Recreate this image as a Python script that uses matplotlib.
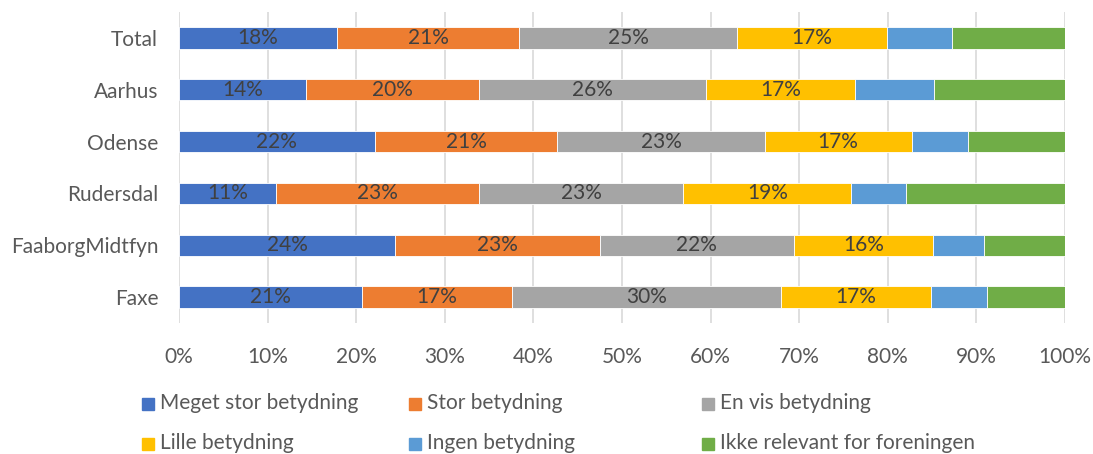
import matplotlib
matplotlib.use("Agg")
import matplotlib.pyplot as plt
import numpy as np

categories = ["Total", "Aarhus", "Odense", "Rudersdal", "FaaborgMidtfyn", "Faxe"]
series_names = ["Meget stor betydning", "Stor betydning", "En vis betydning",
                "Lille betydning", "Ingen betydning", "Ikke relevant for foreningen"]
meget_stor = [17.8, 14.3, 22.1, 10.9, 24.4, 20.6]
stor = [20.6, 19.6, 20.6, 23.0, 23.1, 17.0]
en_vis = [24.6, 25.6, 23.4, 23.0, 21.9, 30.3]
lille = [16.9, 16.8, 16.6, 19.0, 15.7, 17.0]
ingen = [7.4, 8.9, 6.4, 6.2, 5.8, 6.3]
ikke_relevant = [12.7, 14.8, 10.9, 17.9, 9.1, 8.8]
show_labels = [True, True, True, True, False, False]
colors = ["#4472C4", "#ED7D31", "#A5A5A5", "#FFC000", "#5B9BD5", "#70AD47"]
xticks = [0, 10, 20, 30, 40, 50, 60, 70, 80, 90, 100]

series = [meget_stor, stor, en_vis, lille, ingen, ikke_relevant]

plt.rcParams['font.family'] = ['Lato', 'DejaVu Sans']
FS = 15
fig = plt.figure(figsize=(10.93, 4.54), dpi=100)
ax = fig.add_axes([179/1093, 1-323/454, (1065-179)/1093, (323-12)/454])

y = np.arange(len(categories))
left = np.zeros(len(categories))
for vals, col, name, lab in zip(series, colors, series_names, show_labels):
    vals = np.array(vals)
    ax.barh(y, vals, left=left, height=0.41, color=col, edgecolor="white",
            linewidth=0.6, label=name, zorder=3)
    if lab:
        for yi, l, v in zip(y, left, vals):
            ax.text(l + v/2, yi, f"{round(v):.0f}%", ha="center", va="center",
                    fontsize=FS, color="#404040", zorder=4)
    left += vals

ax.set_xlim(0, 100)
ax.set_ylim(len(categories)-0.5, -0.5)
ax.set_yticks(y)
ax.set_yticklabels(categories, fontsize=FS, color="#595959")
ax.set_xticks(xticks)
ax.set_xticklabels([f"{t}%" for t in xticks], fontsize=FS, color="#595959")
ax.tick_params(axis="both", length=0)
ax.tick_params(axis="y", pad=15)
ax.tick_params(axis="x", pad=17)
ax.grid(axis="x", color="#D9D9D9", linewidth=1.2, zorder=0)
for s in ax.spines.values():
    s.set_visible(False)

# legend
pos = [(148, 403), (415, 403), (708, 403), (148, 443), (415, 443), (708, 443)]
for (px, py), col, name in zip(pos, colors, series_names):
    fx, fy = px/1093, 1-py/454
    fig.patches.append(matplotlib.patches.Rectangle((fx-6/1093, fy-7/454), 12/1093, 12/454,
                       transform=fig.transFigure, color=col, figure=fig))
    fig.text(fx + 12/1093, fy, name, ha="left", va="center", fontsize=FS, color="#595959")

fig.savefig("out.png", dpi=100)
